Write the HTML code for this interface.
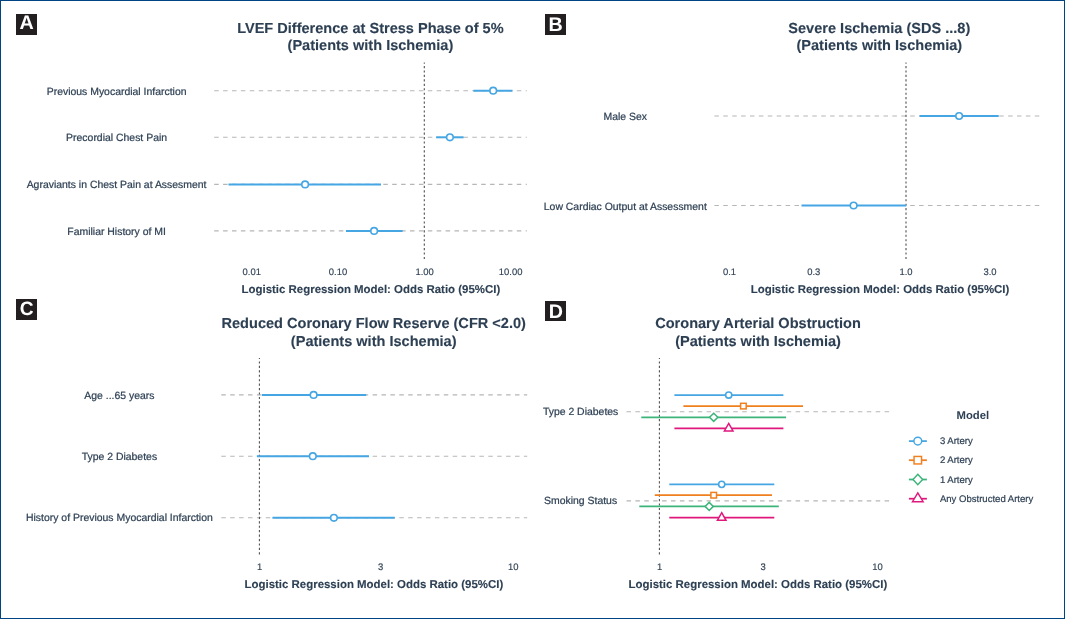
<!DOCTYPE html>
<html lang="en">
<head>
<meta charset="utf-8">
<title>Forest plots: Logistic Regression Models</title>
<style>
html,body{margin:0;padding:0;background:#fff;}
body{width:1065px;height:619px;overflow:hidden;font-family:"Liberation Sans",Arial,sans-serif;}
#fig{position:absolute;left:0;top:0;width:1065px;height:619px;box-sizing:border-box;border:1px solid #004484;background:#fff;}
svg{position:absolute;left:0;top:0;display:block;will-change:transform;}
text{font-family:"Liberation Sans",Arial,sans-serif;text-rendering:geometricPrecision;}
.ttl{font-size:14.55px;font-weight:700;fill:#2D3F53;stroke:#2D3F53;stroke-width:.12px;text-anchor:middle;}
.axt{font-size:11.45px;font-weight:700;fill:#2D3F53;stroke:#2D3F53;stroke-width:.12px;text-anchor:middle;}
.lab{font-size:10.45px;fill:#2F4155;stroke:#2F4155;stroke-width:.22px;text-anchor:middle;}
.tick{font-size:9.45px;fill:#2F4155;stroke:#2F4155;stroke-width:.15px;text-anchor:middle;}
.lgt{font-size:11.3px;font-weight:700;fill:#2D3F53;text-anchor:middle;}
.lgd{font-size:9.55px;fill:#2F4155;stroke:#2F4155;stroke-width:.2px;}
.bdg{font-weight:700;fill:#fff;text-anchor:middle;}
.grid{stroke:#B6B6B6;stroke-width:1.1;stroke-dasharray:4.5 4.4;}
.vl{stroke:#4D4D4D;stroke-width:1.08;stroke-dasharray:2.15 2.29;stroke-dashoffset:.95;}
</style>
</head>
<body>
<div id="fig"></div>
<svg width="1065" height="619" viewBox="0 0 1065 619">
<rect x="16" y="14" width="21" height="21" fill="#231F20"/>
<text class="bdg" x="26.5" y="29" font-size="19.7">A</text>
<text class="ttl" x="370.4" y="33.1">LVEF Difference at Stress Phase of 5%</text>
<text class="ttl" x="370.4" y="50.3">(Patients with Ischemia)</text>
<line class="grid" x1="214.2" x2="526.8" y1="90.7" y2="90.7"/>
<line class="grid" x1="214.2" x2="526.8" y1="137.3" y2="137.3"/>
<line class="grid" x1="214.2" x2="526.8" y1="184.4" y2="184.4"/>
<line class="grid" x1="214.2" x2="526.8" y1="230.9" y2="230.9"/>
<text class="lab" x="116.6" y="94.50">Previous Myocardial Infarction</text>
<text class="lab" x="116.6" y="141.10">Precordial Chest Pain</text>
<text class="lab" x="116.6" y="188.20">Agraviants in Chest Pain at Assesment</text>
<text class="lab" x="116.6" y="234.70">Familiar History of MI</text>
<line class="vl" x1="424.3" x2="424.3" y1="62.5" y2="259.5"/>
<line x1="473.4" x2="512.5" y1="90.7" y2="90.7" stroke="#45A6E3" stroke-width="2"/>
<circle cx="493.2" cy="90.7" r="3.3" fill="#fff" stroke="#45A6E3" stroke-width="1.6"/>
<line x1="436.1" x2="463.6" y1="137.3" y2="137.3" stroke="#45A6E3" stroke-width="2"/>
<circle cx="449.9" cy="137.3" r="3.3" fill="#fff" stroke="#45A6E3" stroke-width="1.6"/>
<line x1="228.5" x2="381" y1="184.4" y2="184.4" stroke="#45A6E3" stroke-width="2"/>
<circle cx="305.1" cy="184.4" r="3.3" fill="#fff" stroke="#45A6E3" stroke-width="1.6"/>
<line x1="346" x2="402.6" y1="230.9" y2="230.9" stroke="#45A6E3" stroke-width="2"/>
<circle cx="374.1" cy="230.9" r="3.3" fill="#fff" stroke="#45A6E3" stroke-width="1.6"/>
<text class="tick" x="251.8" y="274.6">0.01</text>
<text class="tick" x="338" y="274.6">0.10</text>
<text class="tick" x="424.6" y="274.6">1.00</text>
<text class="tick" x="510.6" y="274.6">10.00</text>
<text class="axt" x="370.9" y="292.6">Logistic Regression Model: Odds Ratio (95%CI)</text>
<rect x="545" y="14" width="21" height="21" fill="#231F20"/>
<text class="bdg" x="555.6" y="31.2" font-size="19.7">B</text>
<text class="ttl" x="879.3" y="33.1">Severe Ischemia (SDS ...8)</text>
<text class="ttl" x="879.3" y="50.3">(Patients with Ischemia)</text>
<line class="grid" x1="714.4" x2="1039.8" y1="116" y2="116"/>
<line class="grid" x1="714.4" x2="1039.8" y1="205.5" y2="205.5"/>
<text class="lab" x="625.3" y="120.30">Male Sex</text>
<text class="lab" x="625.3" y="209.80">Low Cardiac Output at Assessment</text>
<line class="vl" x1="906" x2="906" y1="62.5" y2="259.5"/>
<line x1="919.5" x2="998.7" y1="116" y2="116" stroke="#45A6E3" stroke-width="2"/>
<circle cx="959.1" cy="116" r="3.3" fill="#fff" stroke="#45A6E3" stroke-width="1.6"/>
<line x1="801.5" x2="906.2" y1="205.5" y2="205.5" stroke="#45A6E3" stroke-width="2"/>
<circle cx="853.6" cy="205.5" r="3.3" fill="#fff" stroke="#45A6E3" stroke-width="1.6"/>
<text class="tick" x="729.5" y="274.6">0.1</text>
<text class="tick" x="813.8" y="274.6">0.3</text>
<text class="tick" x="906" y="274.6">1.0</text>
<text class="tick" x="990" y="274.6">3.0</text>
<text class="axt" x="880.0" y="292.6">Logistic Regression Model: Odds Ratio (95%CI)</text>
<rect x="16" y="299" width="21" height="21" fill="#231F20"/>
<text class="bdg" x="26.7" y="315.2" font-size="19.2">C</text>
<text class="ttl" x="373.7" y="328.3">Reduced Coronary Flow Reserve (CFR &lt;2.0)</text>
<text class="ttl" x="373.7" y="345.8">(Patients with Ischemia)</text>
<line class="grid" x1="221.3" x2="527.2" y1="394.9" y2="394.9"/>
<line class="grid" x1="221.3" x2="527.2" y1="456.2" y2="456.2"/>
<line class="grid" x1="221.3" x2="527.2" y1="517.8" y2="517.8"/>
<text class="lab" x="119.4" y="398.55">Age ...65 years</text>
<text class="lab" x="119.4" y="459.85">Type 2 Diabetes</text>
<text class="lab" x="119.4" y="521.45">History of Previous Myocardial Infarction</text>
<line class="vl" x1="259.4" x2="259.4" y1="357.9" y2="554.5"/>
<line x1="261.9" x2="366.2" y1="394.9" y2="394.9" stroke="#45A6E3" stroke-width="2"/>
<circle cx="313.6" cy="394.9" r="3.3" fill="#fff" stroke="#45A6E3" stroke-width="1.6"/>
<line x1="256.9" x2="369" y1="456.2" y2="456.2" stroke="#45A6E3" stroke-width="2"/>
<circle cx="312.8" cy="456.2" r="3.3" fill="#fff" stroke="#45A6E3" stroke-width="1.6"/>
<line x1="272.4" x2="394.8" y1="517.8" y2="517.8" stroke="#45A6E3" stroke-width="2"/>
<circle cx="333.9" cy="517.8" r="3.3" fill="#fff" stroke="#45A6E3" stroke-width="1.6"/>
<text class="tick" x="259.5" y="570.2">1</text>
<text class="tick" x="380.5" y="570.2">3</text>
<text class="tick" x="513.3" y="570.2">10</text>
<text class="axt" x="373.9" y="587.5">Logistic Regression Model: Odds Ratio (95%CI)</text>
<rect x="545" y="301" width="21" height="20" fill="#231F20"/>
<text class="bdg" x="555.9" y="318.2" font-size="19.7">D</text>
<text class="ttl" x="758" y="328.3">Coronary Arterial Obstruction</text>
<text class="ttl" x="758" y="345.8">(Patients with Ischemia)</text>
<line class="grid" x1="626.5" x2="889.5" y1="411.7" y2="411.7"/>
<line class="grid" x1="626.5" x2="889.5" y1="500.9" y2="500.9"/>
<text class="lab" x="580.6" y="415.10">Type 2 Diabetes</text>
<text class="lab" x="580.6" y="504.30">Smoking Status</text>
<line class="vl" x1="659.4" x2="659.4" y1="357.9" y2="554.5"/>
<line x1="674.4" x2="783.4" y1="395" y2="395" stroke="#45A6E3" stroke-width="1.75"/>
<circle cx="728.7" cy="395" r="3.1" fill="#fff" stroke="#45A6E3" stroke-width="1.55"/>
<line x1="683.4" x2="803" y1="406.1" y2="406.1" stroke="#F07F1E" stroke-width="1.75"/>
<rect x="740.60" y="403.30" width="5.6" height="5.6" fill="#fff" stroke="#F07F1E" stroke-width="1.5"/>
<line x1="641.3" x2="786.1" y1="417.3" y2="417.3" stroke="#3CB47A" stroke-width="1.75"/>
<polygon points="713.7,413.25 717.80,417.3 713.7,421.35 709.60,417.3" fill="#fff" stroke="#3CB47A" stroke-width="1.5" stroke-linejoin="miter"/>
<line x1="674.4" x2="783.4" y1="428.4" y2="428.4" stroke="#E0187C" stroke-width="1.75"/>
<polygon points="728.7,423.40 733.00,431.00 724.40,431.00" fill="#fff" stroke="#E0187C" stroke-width="1.5" stroke-linejoin="miter"/>
<line x1="669.3" x2="774.3" y1="484.3" y2="484.3" stroke="#45A6E3" stroke-width="1.75"/>
<circle cx="721.7" cy="484.3" r="3.1" fill="#fff" stroke="#45A6E3" stroke-width="1.55"/>
<line x1="654.8" x2="772" y1="495.2" y2="495.2" stroke="#F07F1E" stroke-width="1.75"/>
<rect x="710.90" y="492.40" width="5.6" height="5.6" fill="#fff" stroke="#F07F1E" stroke-width="1.5"/>
<line x1="639.3" x2="778.8" y1="506.4" y2="506.4" stroke="#3CB47A" stroke-width="1.75"/>
<polygon points="709.2,502.35 713.30,506.4 709.2,510.45 705.10,506.4" fill="#fff" stroke="#3CB47A" stroke-width="1.5" stroke-linejoin="miter"/>
<line x1="669.3" x2="774.3" y1="517.7" y2="517.7" stroke="#E0187C" stroke-width="1.75"/>
<polygon points="721.7,512.70 726.00,520.30 717.40,520.30" fill="#fff" stroke="#E0187C" stroke-width="1.5" stroke-linejoin="miter"/>
<text class="tick" x="659.5" y="570.2">1</text>
<text class="tick" x="763" y="570.2">3</text>
<text class="tick" x="877.6" y="570.2">10</text>
<text class="axt" x="757.9" y="587.5">Logistic Regression Model: Odds Ratio (95%CI)</text>
<text class="lgt" x="972.8" y="418.8">Model</text>
<line x1="908.9" x2="926.9" y1="441.1" y2="441.1" stroke="#45A6E3" stroke-width="1.75"/>
<circle cx="917.8" cy="441.1" r="3.9" fill="#fff" stroke="#45A6E3" stroke-width="1.45"/>
<text class="lgd" x="939.9" y="444.2">3 Artery</text>
<line x1="908.9" x2="926.9" y1="460.2" y2="460.2" stroke="#F07F1E" stroke-width="1.75"/>
<rect x="914.05" y="456.45" width="7.5" height="7.5" fill="#fff" stroke="#F07F1E" stroke-width="1.45"/>
<text class="lgd" x="939.9" y="463.3">2 Artery</text>
<line x1="908.9" x2="926.9" y1="479.5" y2="479.5" stroke="#3CB47A" stroke-width="1.75"/>
<polygon points="917.8,474.30 922.60,479.5 917.8,484.70 913.00,479.5" fill="#fff" stroke="#3CB47A" stroke-width="1.45" stroke-linejoin="miter"/>
<text class="lgd" x="939.9" y="482.6">1 Artery</text>
<line x1="908.9" x2="926.9" y1="498.7" y2="498.7" stroke="#E0187C" stroke-width="1.75"/>
<polygon points="917.8,492.90 923.10,501.70 912.50,501.70" fill="#fff" stroke="#E0187C" stroke-width="1.45" stroke-linejoin="miter"/>
<text class="lgd" x="939.9" y="501.8">Any Obstructed Artery</text>
</svg>
</body>
</html>
